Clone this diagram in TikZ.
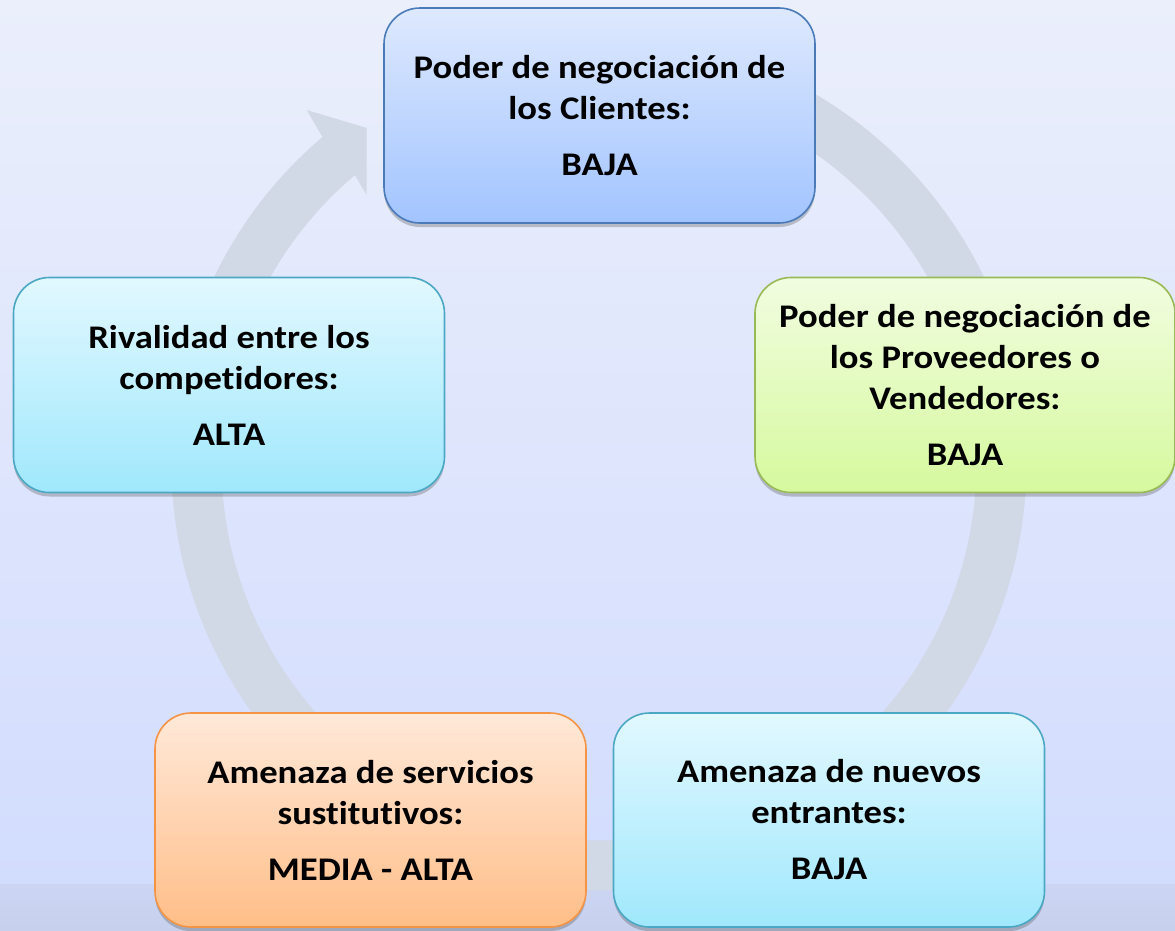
\documentclass[tikz,border=0pt]{standalone}
\usepackage{fontspec}
\setmainfont{Carlito}[FakeStretch=1.11, Ligatures=NoCommon]
\usetikzlibrary{shadows}
\definecolor{bgtop}{RGB}{235,239,252}
\definecolor{bgbot}{RGB}{210,220,253}
\definecolor{bandtop}{RGB}{204,214,244}
\definecolor{bandbot}{RGB}{199,209,237}
\definecolor{arrowc}{RGB}{209,216,230}
\definecolor{bluetop}{RGB}{222,233,254}
\definecolor{bluebot}{RGB}{162,196,255}
\definecolor{blueline}{RGB}{74,122,184}
\definecolor{cyantop}{RGB}{226,248,255}
\definecolor{cyanbot}{RGB}{160,232,252}
\definecolor{cyanline}{RGB}{75,168,196}
\definecolor{greentop}{RGB}{241,253,224}
\definecolor{greenbot}{RGB}{214,249,158}
\definecolor{greenline}{RGB}{152,186,86}
\definecolor{orangetop}{RGB}{255,233,217}
\definecolor{orangebot}{RGB}{255,190,136}
\definecolor{orangeline}{RGB}{245,148,68}
\begin{document}
\begin{tikzpicture}[x=1pt,y=1pt,
  box/.style={rectangle, rounded corners=36pt, minimum width=431pt, minimum height=215pt,
    line width=1.6pt, inner sep=0pt, align=center,
    font=\bfseries\fontsize{33}{41}\selectfont,
    drop shadow={shadow xshift=0pt, shadow yshift=-4pt, opacity=0.3, fill=black!70}},
  bluebox/.style={box, draw=blueline, top color=bluetop, bottom color=bluebot},
  cyanbox/.style={box, draw=cyanline, top color=cyantop, bottom color=cyanbot},
  greenbox/.style={box, draw=greenline, top color=greentop, bottom color=greenbot},
  orangebox/.style={box, draw=orangeline, top color=orangetop, bottom color=orangebot}]
\useasboundingbox (0,0) rectangle (1175,-930);
\shade[top color=bgtop, bottom color=bgbot] (0,0) rectangle (1175,-884);
\shade[top color=bandtop, bottom color=bandbot] (0,-884) rectangle (1175,-930);
% cycle arrow
\coordinate (C) at (599,-463);
\fill[arrowc] ([shift={(80:427.5)}]C) arc[start angle=80, end angle=-229.7, radius=427.5]
  -- (306.7,-110) -- (366.7,-128) -- (366.7,-195)
  -- ([shift={(-229.7:377.5)}]C) arc[start angle=-229.7, end angle=80, radius=377.5] -- cycle;
% boxes
\node[bluebox] (clientes) at (599.5,-115.5)
  {Poder de negociación de\\los Clientes:\\[15pt]BAJA};
\node[greenbox, minimum width=420pt] (proveedores) at (965,-385)
  {Poder de negociación de\\los Proveedores o\\Vendedores:\\[15pt]BAJA};
\node[cyanbox] (rivalidad) at (229,-385)
  {Rivalidad entre los\\competidores:\\[15pt]ALTA};
\node[orangebox, minimum height=214pt] (sustitutos) at (370.5,-820)
  {Amenaza de servicios\\sustitutivos:\\[15pt]MEDIA - ALTA};
\node[cyanbox, minimum height=214pt] (entrantes) at (829,-820)
  {Amenaza de nuevos\\entrantes:\\[15pt]BAJA};
\end{tikzpicture}
\end{document}
